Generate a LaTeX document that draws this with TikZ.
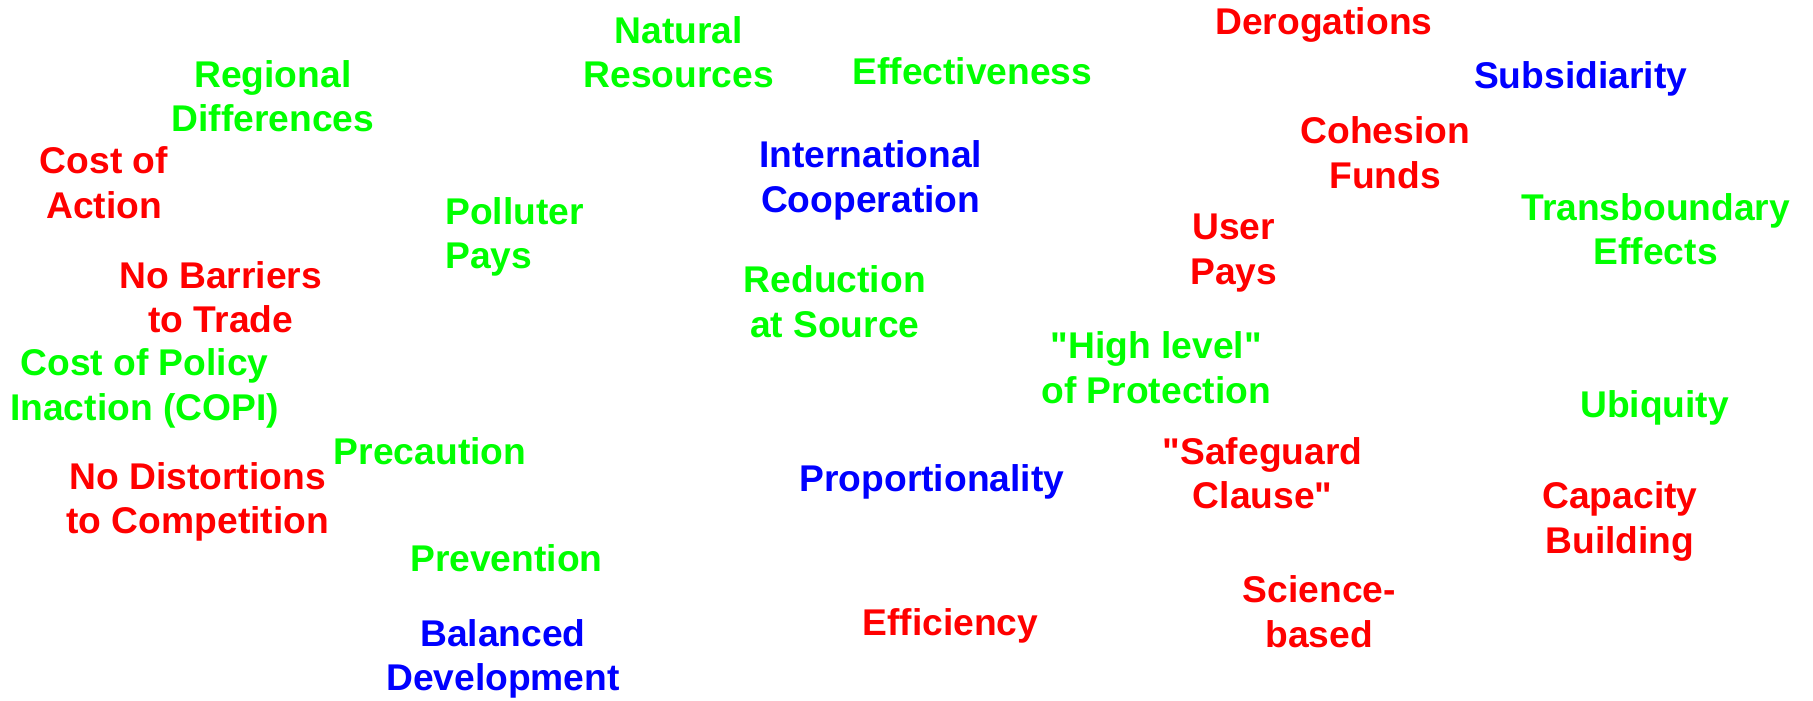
\documentclass[tikz,border=0pt]{standalone}
\usepackage{fontspec}
\setmainfont{Liberation Sans}
\definecolor{wordgreen}{RGB}{0,255,0}
\definecolor{wordred}{RGB}{255,0,0}
\definecolor{wordblue}{RGB}{0,0,255}
\tikzset{
  word/.style={inner sep=0pt, align=center, font=\bfseries\fontsize{9.15}{10.9}\selectfont},
  greenword/.style={word, text=wordgreen},
  redword/.style={word, text=wordred},
  blueword/.style={word, text=wordblue}
}
\newcommand{\dq}{\textquotedbl}

\begin{document}
\begin{tikzpicture}[x=0.01cm,y=-0.01cm]
\useasboundingbox (0,0) rectangle (1568,606);

% green
\node[greenword] (natres)  at (587,45)  {Natural\\Resources};
\node[greenword] (regdiff) at (236,83)  {Regional\\Differences};
\node[greenword] (effect)  at (841,62)  {Effectiveness};
\node[greenword, align=left] (polpays) at (445,205) {Polluter\\Pays};
\node[greenword] (transb)  at (1432,198) {Transboundary\\Effects};
\node[greenword] (redsrc)  at (722,261) {Reduction\\at Source};
\node[greenword] (copi)    at (125,336) {Cost of Policy\\Inaction (COPI)};
\node[greenword] (highlvl) at (1000,318) {\dq High level\dq\\of Protection};
\node[greenword] (ubiq)    at (1431,353) {Ubiquity};
\node[greenword] (precau)  at (372,390) {Precaution};
\node[greenword] (prevent) at (438,483) {Prevention};

% red
\node[redword] (derog)   at (1145,22)  {Derogations};
\node[redword] (cohes)   at (1198,132) {Cohesion\\Funds};
\node[redword] (costact) at (90,158)   {Cost of\\Action};
\node[redword] (userpay) at (1067,219) {User\\Pays};
\node[redword] (nobarr)  at (191,257)  {No Barriers\\to Trade};
\node[redword] (safeg)   at (1092,409) {\dq Safeguard\\Clause\dq};
\node[redword] (nodist)  at (171,434)  {No Distortions\\to Competition};
\node[redword] (capbld)  at (1401,451) {Capacity\\Building};
\node[redword] (effic)   at (822,541)  {Efficiency};
\node[redword] (science) at (1141,529) {Science-\\based};

% blue
\node[blueword] (subsid)  at (1367,68)  {Subsidiarity};
\node[blueword] (intcoop) at (753,156)  {International\\Cooperation};
\node[blueword] (proport) at (806,417)  {Proportionality};
\node[blueword] (baldev)  at (435,570)  {Balanced\\Development};
\end{tikzpicture}
\end{document}
